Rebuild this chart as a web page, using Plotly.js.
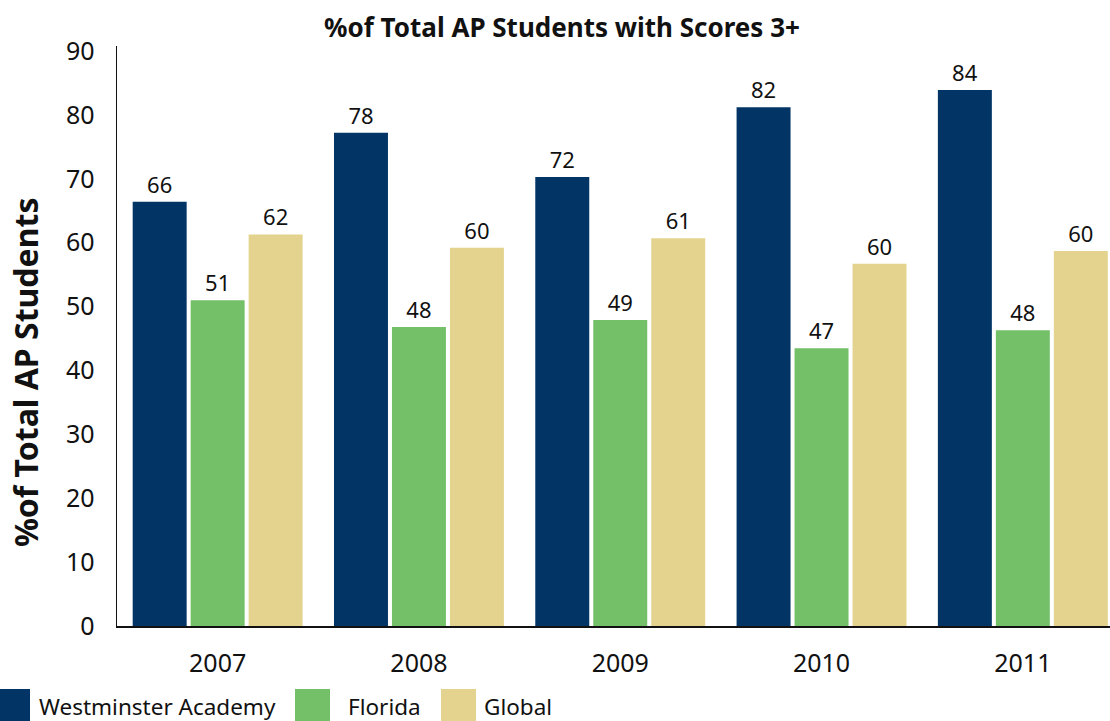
<!DOCTYPE html>
<html>
<head>
<meta charset="utf-8">
<script src="https://cdn.plot.ly/plotly-3.0.1.min.js"></script>
<style>
html,body{margin:0;padding:0;background:#fff;}
#chart{width:1110px;height:721px;}
</style>
</head>
<body>
<div id="chart"></div>
<script>
const years = ["2007", "2008", "2009", "2010", "2011"];
const seriesNames = ["Westminster Academy", "Florida", "Global"];
const seriesColors = ["#023466", "#74C069", "#E3D38E"];
// bar heights as drawn
const westminster = [66.4, 77.2, 70.3, 81.2, 83.9];
const florida = [51.0, 46.8, 47.9, 43.5, 46.3];
const global = [61.3, 59.2, 60.7, 56.7, 58.7];
// data labels as printed
const westminsterLabels = ["66", "78", "72", "82", "84"];
const floridaLabels = ["51", "48", "49", "47", "48"];
const globalLabels = ["62", "60", "61", "60", "60"];
const yTicks = [0, 10, 20, 30, 40, 50, 60, 70, 80, 90];
const chartTitle = "%of Total AP Students with Scores 3+";
const yTitle = "%of Total AP Students";

const FONT = "'Noto Sans', 'Open Sans', sans-serif";
const values = [westminster, florida, global];
const labels = [westminsterLabels, floridaLabels, globalLabels];

const traces = seriesNames.map((n, i) => ({
  type: "bar",
  name: n,
  x: years,
  y: values[i],
  text: labels[i],
  textposition: "outside",
  textfont: {family: FONT, size: 22, color: "#111"},
  cliponaxis: false,
  marker: {color: seriesColors[i]},
  hoverinfo: "x+y+name",
  showlegend: false
}));

const W = 1110, H = 721, ml = 117, mr = 0, mt = 46, mb = 95;
const pw = W - ml - mr, ph = H - mt - mb;
function px(x) { return (x - ml) / pw; }
function py(y) { return (H - mb - y) / ph; }
const legendSquares = [[0, 30], [295, 330], [441, 476]];
const legendTextX = [37, 346, 482];
const shapes = [];
const annotations = [];
seriesNames.forEach((n, i) => {
  shapes.push({type: "rect", xref: "paper", yref: "paper",
    x0: px(legendSquares[i][0]), x1: px(legendSquares[i][1]),
    y0: py(689), y1: py(725), fillcolor: seriesColors[i], line: {width: 0}, layer: "above"});
  annotations.push({xref: "paper", yref: "paper", x: px(legendTextX[i]), y: py(706),
    xanchor: "left", yanchor: "middle", showarrow: false, text: n,
    font: {family: FONT, size: 22.5, color: "#111"}});
});
annotations.push({xref: "paper", yref: "paper", x: px(25), y: py(373),
  xanchor: "center", yanchor: "middle", showarrow: false, textangle: -90,
  text: "<b>" + yTitle + "</b>", font: {family: FONT, size: 32, color: "#111"}});

const layout = {
  width: W, height: H,
  margin: {l: ml, r: mr, t: mt, b: mb, pad: 0},
  paper_bgcolor: "#fff", plot_bgcolor: "#fff",
  font: {family: FONT, color: "#111"},
  title: {text: "<b>" + chartTitle + "</b>", x: 562 / W, xanchor: "center",
    y: 1 - 28 / H, yanchor: "middle", font: {family: FONT, size: 26, color: "#111"}},
  barmode: "group",
  bargap: 0.136,
  bargroupgap: 0.069,
  xaxis: {
    type: "category",
    range: [-0.5, 4.433],
    showline: true, linecolor: "#111", linewidth: 1.5,
    ticks: "", showgrid: false, zeroline: false,
    tickfont: {family: FONT, size: 25, color: "#111"},
    ticklabelstandoff: 14
  },
  yaxis: {
    range: [0, 90.8],
    tickvals: yTicks,
    ticktext: yTicks.map(String),
    showline: true, linecolor: "#111", linewidth: 1.5,
    ticks: "", showgrid: false, zeroline: false,
    tickfont: {family: FONT, size: 25, color: "#111"},
    ticklabelstandoff: 16
  },
  shapes: shapes,
  annotations: annotations
};

Plotly.newPlot("chart", traces, layout, {displayModeBar: false, staticPlot: true});
</script>
</body>
</html>
